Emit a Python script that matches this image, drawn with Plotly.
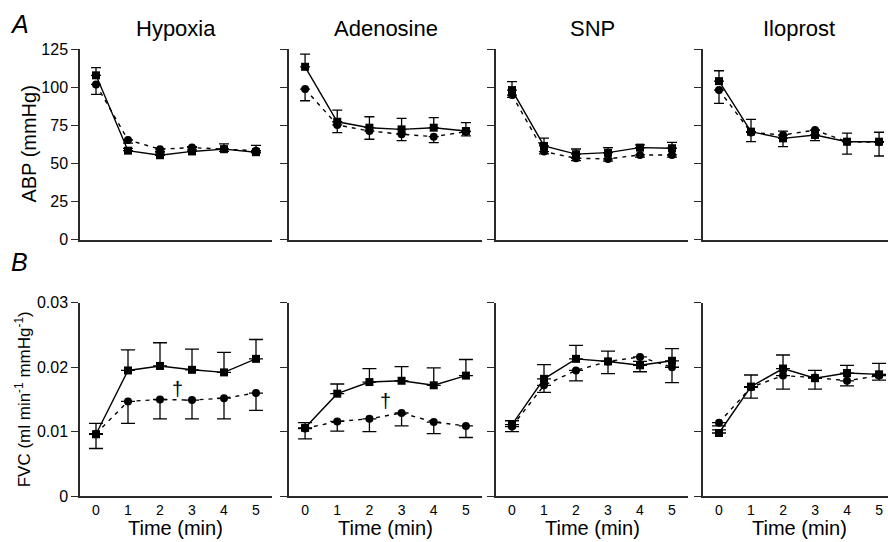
import plotly.graph_objects as go

time = [0, 1, 2, 3, 4, 5]
panel_titles = ["Hypoxia", "Adenosine", "SNP", "Iloprost"]

# Arterial blood pressure (mmHg): squares = solid line (upper SEM), circles = dashed line (lower SEM)
hyp_abp_sq = [108, 58.5, 55.5, 58, 59.5, 57.5]
hyp_abp_sq_err = [5, 1.5, 1.5, 3.2, 3.5, 4.5]
hyp_abp_ci = [102, 65.5, 59.5, 60.5, 59.5, 58.5]
hyp_abp_ci_err = [6.5, 2, 1.5, 1.5, 1.5, 1.5]

ade_abp_sq = [113.6, 77.5, 73.6, 72.5, 73.6, 71.4]
ade_abp_sq_err = [8.3, 7.7, 7.2, 7.2, 6.6, 5.5]
ade_abp_ci = [99, 75.4, 71.4, 69.3, 67.7, 71]
ade_abp_ci_err = [7.7, 5.1, 5.4, 4.2, 3.9, 2.8]

snp_abp_sq = [98.3, 61.6, 56.2, 57.2, 60.5, 60.1]
snp_abp_sq_err = [5.5, 5.1, 3.4, 3.3, 1.8, 3.9]
snp_abp_ci = [95, 57.9, 53.5, 53.1, 55.7, 55.7]
snp_abp_ci_err = [1.5, 1.5, 1.5, 1.5, 1.5, 1.5]

ilo_abp_sq = [104.2, 71, 66.6, 68.8, 64.4, 64.4]
ilo_abp_sq_err = [6.8, 8.1, 4.8, 3.2, 5.6, 6.2]
ilo_abp_ci = [98.3, 70.5, 68.8, 72, 64.4, 64]
ilo_abp_ci_err = [8.7, 6.1, 7.6, 6.9, 8.2, 9]

# Forearm vascular conductance (ml min-1 mmHg-1)
hyp_fvc_sq = [0.0096, 0.0195, 0.0202, 0.0196, 0.0192, 0.0213]
hyp_fvc_sq_err = [0.0017, 0.0032, 0.0036, 0.0032, 0.0031, 0.0030]
hyp_fvc_ci = [0.0097, 0.0147, 0.0150, 0.0149, 0.0152, 0.0160]
hyp_fvc_ci_err = [0.0023, 0.0034, 0.0030, 0.0029, 0.0032, 0.0027]

ade_fvc_sq = [0.0106, 0.0159, 0.0177, 0.0179, 0.0172, 0.0187]
ade_fvc_sq_err = [0.0008, 0.0015, 0.0021, 0.0022, 0.0027, 0.0025]
ade_fvc_ci = [0.0105, 0.0116, 0.0120, 0.0129, 0.0115, 0.0109]
ade_fvc_ci_err = [0.0016, 0.0015, 0.0020, 0.0020, 0.0018, 0.0018]

snp_fvc_sq = [0.0111, 0.0182, 0.0213, 0.0209, 0.0203, 0.0210]
snp_fvc_sq_err = [0.0006, 0.0022, 0.0021, 0.0016, 0.0006, 0.0019]
snp_fvc_ci = [0.0108, 0.0172, 0.0195, 0.0209, 0.0216, 0.0200]
snp_fvc_ci_err = [0.0008, 0.0011, 0.0016, 0.0019, 0.0023, 0.0024]

ilo_fvc_sq = [0.0098, 0.0170, 0.0198, 0.0183, 0.0191, 0.0189]
ilo_fvc_sq_err = [0.0005, 0.0018, 0.0021, 0.0012, 0.0012, 0.0017]
ilo_fvc_ci = [0.0114, 0.0169, 0.0187, 0.0184, 0.0179, 0.0187]
ilo_fvc_ci_err = [0.0005, 0.0017, 0.0021, 0.0018, 0.0008, 0.0007]

# significance markers (time, FVC)
dagger_hyp = (2.55, 0.0166)
dagger_ade = (2.5, 0.0148)

abp_ticks = [0, 25, 50, 75, 100, 125]
fvc_ticks = [0, 0.01, 0.02, 0.03]
fvc_ticktext = ["0", "0.01", "0.02", "0.03"]

W, H = 888, 542
FONT = "Liberation Sans, Arial, Helvetica, sans-serif"
AX = "#2a2a2a"


def py(px):
    """paper y fraction for a vertical pixel position (measured from the top)"""
    return 1 - px / H


x_domains = [(80 / W, 272 / W), (289 / W, 482 / W), (496 / W, 688 / W), (703 / W, 1.0)]
x_ranges = [[-0.5, 5.5], [-0.5, 5.5], [-0.5, 5.5], [-0.5, 5.28]]
top_dom = (py(239.2), py(42.8))
bot_dom = (py(504.0), py(304.3))

abp_sets = [
    (hyp_abp_sq, hyp_abp_sq_err, hyp_abp_ci, hyp_abp_ci_err),
    (ade_abp_sq, ade_abp_sq_err, ade_abp_ci, ade_abp_ci_err),
    (snp_abp_sq, snp_abp_sq_err, snp_abp_ci, snp_abp_ci_err),
    (ilo_abp_sq, ilo_abp_sq_err, ilo_abp_ci, ilo_abp_ci_err),
]
fvc_sets = [
    (hyp_fvc_sq, hyp_fvc_sq_err, hyp_fvc_ci, hyp_fvc_ci_err),
    (ade_fvc_sq, ade_fvc_sq_err, ade_fvc_ci, ade_fvc_ci_err),
    (snp_fvc_sq, snp_fvc_sq_err, snp_fvc_ci, snp_fvc_ci_err),
    (ilo_fvc_sq, ilo_fvc_sq_err, ilo_fvc_ci, ilo_fvc_ci_err),
]

fig = go.Figure()


def add_pair(xa, ya, sq, sq_err, ci, ci_err, cap):
    zeros = [0] * len(time)
    # circles, dashed, downward error bars
    fig.add_trace(go.Scatter(
        x=time, y=ci, xaxis=xa, yaxis=ya, mode="lines+markers",
        line=dict(color="black", width=1.4, dash="4px,5px"),
        marker=dict(symbol="circle", size=8, color="black"),
        error_y=dict(type="data", symmetric=False, array=zeros, arrayminus=ci_err,
                     color="black", thickness=1.3, width=cap),
        cliponaxis=False, showlegend=False, hoverinfo="skip"))
    # squares, solid, upward error bars
    fig.add_trace(go.Scatter(
        x=time, y=sq, xaxis=xa, yaxis=ya, mode="lines+markers",
        line=dict(color="black", width=1.4),
        marker=dict(symbol="square", size=8, color="black"),
        error_y=dict(type="data", symmetric=False, array=sq_err, arrayminus=zeros,
                     color="black", thickness=1.3, width=cap),
        cliponaxis=False, showlegend=False, hoverinfo="skip"))


layout = dict(
    width=W, height=H, margin=dict(l=0, r=0, t=0, b=0),
    paper_bgcolor="white", plot_bgcolor="white",
    font=dict(family=FONT, color="black"),
)

annotations = []
for i in range(4):
    top_n = i + 1
    bot_n = i + 5
    xa_t, ya_t = f"x{top_n}", f"y{top_n}"
    xa_b, ya_b = f"x{bot_n}", f"y{bot_n}"
    add_pair(xa_t, ya_t, *abp_sets[i], cap=5)
    add_pair(xa_b, ya_b, *fvc_sets[i], cap=7)

    common_x = dict(domain=list(x_domains[i]), range=x_ranges[i], showgrid=False,
                    zeroline=False, showline=True, linecolor=AX, linewidth=1.5,
                    fixedrange=True)
    layout[f"xaxis{top_n}"] = dict(common_x, anchor=ya_t, showticklabels=False, ticks="")
    layout[f"xaxis{bot_n}"] = dict(common_x, anchor=ya_b, ticks="",
                                   tickvals=time, tickfont=dict(size=14),
                                   ticklabelstandoff=0)

    common_y = dict(showgrid=False, zeroline=False, showline=True, linecolor=AX,
                    linewidth=1.5, ticks="outside", ticklen=7, tickwidth=1.3,
                    tickcolor=AX, showticklabels=(i == 0), tickfont=dict(size=16),
                    fixedrange=True)
    layout[f"yaxis{top_n}"] = dict(common_y, domain=list(top_dom), anchor=xa_t,
                                   range=[0, 125], tickvals=abp_ticks)
    layout[f"yaxis{bot_n}"] = dict(common_y, domain=list(bot_dom), anchor=xa_b,
                                   range=[0, 0.03], tickvals=fvc_ticks,
                                   ticktext=fvc_ticktext)

    cx = (x_domains[i][0] + x_domains[i][1]) / 2 if i < 3 else 799 / W
    annotations.append(dict(text=panel_titles[i], x=cx, y=py(21), xref="paper",
                            yref="paper", showarrow=False, xanchor="center",
                            yanchor="middle", font=dict(size=22)))
    annotations.append(dict(text="Time (min)", x=cx, y=py(537), xref="paper",
                            yref="paper", showarrow=False, xanchor="center",
                            yanchor="middle", font=dict(size=20)))

annotations += [
    dict(text="<i>A</i>", x=19 / W, y=py(17), xref="paper", yref="paper",
         showarrow=False, xanchor="center", yanchor="middle", font=dict(size=25)),
    dict(text="<i>B</i>", x=19 / W, y=py(262), xref="paper", yref="paper",
         showarrow=False, xanchor="center", yanchor="middle", font=dict(size=25)),
    dict(text="ABP (mmHg)", x=29 / W, y=py(141), xref="paper", yref="paper",
         showarrow=False, textangle=-90, xanchor="center", yanchor="middle",
         font=dict(size=20)),
    dict(text="FVC (ml min<sup>-1</sup> mmHg<sup>-1</sup>)", x=23 / W, y=py(404),
         xref="paper", yref="paper", showarrow=False, textangle=-90,
         xanchor="center", yanchor="middle", font=dict(size=17)),
    dict(text="†", x=dagger_hyp[0], y=dagger_hyp[1], xref="x5", yref="y5",
         showarrow=False, font=dict(size=20, color="black")),
    dict(text="†", x=dagger_ade[0], y=dagger_ade[1], xref="x6", yref="y6",
         showarrow=False, font=dict(size=20, color="black")),
]
layout["annotations"] = annotations

fig.update_layout(**layout)
fig.write_html("out.html")
